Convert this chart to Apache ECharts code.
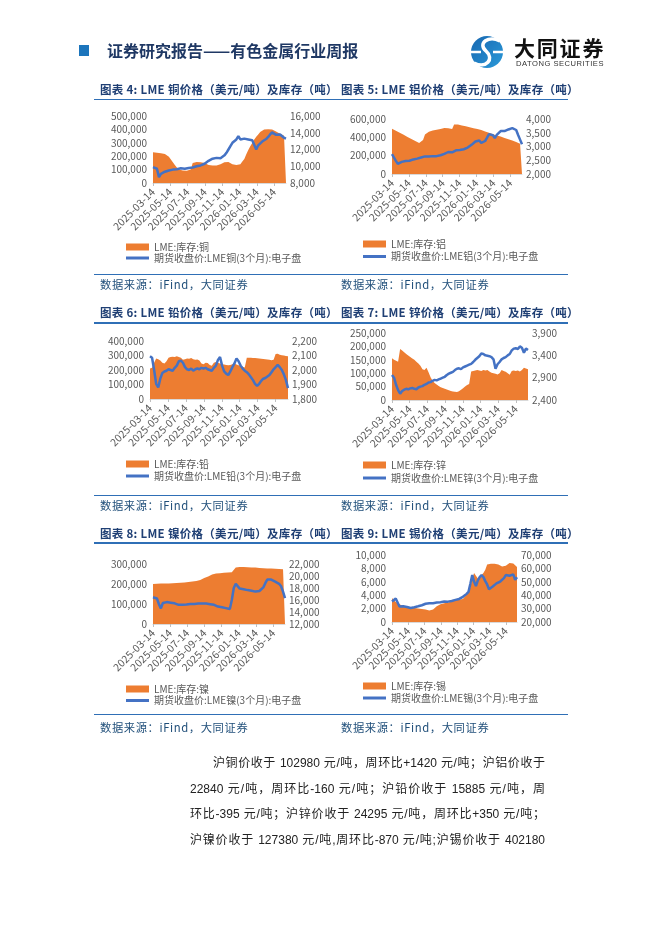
<!DOCTYPE html>
<html>
<head>
<meta charset="utf-8">
<script src="https://cdn.jsdelivr.net/npm/echarts@6.0.0/dist/echarts.min.js"></script>
<style>
html,body{margin:0;padding:0;background:#fff;}
#page{position:relative;width:662px;height:936px;overflow:hidden;font-family:"Noto Sans CJK SC",sans-serif;}
#graph_all{position:absolute;left:0;top:0;width:662px;height:936px;}
.abs{position:absolute;white-space:nowrap;}
.ttl{font-size:11.5px;font-weight:bold;color:#1f3f74;line-height:14px;letter-spacing:0.3px;}
.src{font-size:11.3px;color:#1f4e79;line-height:14px;letter-spacing:0.6px;}
.rule{position:absolute;left:94px;width:474px;height:1.5px;background:#2f6fb6;}
.para{position:absolute;left:190px;width:355px;font-family:"Liberation Sans","Noto Sans CJK SC",sans-serif;font-size:12px;color:#222;text-align:justify;text-align-last:justify;white-space:nowrap;line-height:25px;height:25px;}
</style>
</head>
<body>
<div id="page">
  <div id="graph_all"></div>

  <!-- 页眉 -->
  <div class="abs" style="left:79px;top:45px;width:10px;height:11px;background:#1c75bc;"></div>
  <div class="abs" style="left:107px;top:40px;font-size:16px;font-weight:bold;color:#1f3864;line-height:20px;">证券研究报告——有色金属行业周报</div>
  <svg class="abs" style="left:469px;top:34px;" width="38" height="36" viewBox="0 0 38 36">
    <defs><linearGradient id="lg" x1="0" y1="0" x2="1" y2="1"><stop offset="0" stop-color="#1766b0"/><stop offset="1" stop-color="#2b9ad9"/></linearGradient></defs>
    <circle cx="18" cy="18" r="16" fill="url(#lg)"/>
    <path d="M31,7 C20,1 8,9 17,17 C26,25 17,35 5,29" stroke="#fff" stroke-width="3.5" fill="none"/>
    <path d="M2,18 L12,18 M24,18 L34,18" stroke="#fff" stroke-width="2.5"/>
  </svg>
  <div class="abs" style="left:514px;top:34px;font-size:21px;font-weight:bold;color:#111;letter-spacing:1.8px;line-height:26px;">大同证券</div>
  <div class="abs" style="left:516px;top:59px;font-family:'Liberation Sans',sans-serif;font-size:7.6px;color:#333;line-height:10px;letter-spacing:0.5px;">DATONG SECURITIES</div>

  <!-- 第一行 -->
  <div class="abs ttl" style="left:100px;top:82px;">图表 4: LME 铜价格（美元/吨）及库存（吨）</div>
  <div class="abs ttl" style="left:341px;top:82px;">图表 5: LME 铝价格（美元/吨）及库存（吨）</div>
  <div class="rule" style="top:98.5px;"></div>
  <div class="rule" style="top:273.5px;"></div>
  <div class="abs src" style="left:100px;top:277px;">数据来源：iFind，大同证券</div>
  <div class="abs src" style="left:341px;top:277px;">数据来源：iFind，大同证券</div>

  <!-- 第二行 -->
  <div class="abs ttl" style="left:100px;top:305px;">图表 6: LME 铅价格（美元/吨）及库存（吨）</div>
  <div class="abs ttl" style="left:341px;top:305px;">图表 7: LME 锌价格（美元/吨）及库存（吨）</div>
  <div class="rule" style="top:322px;"></div>
  <div class="rule" style="top:494.5px;"></div>
  <div class="abs src" style="left:100px;top:498px;">数据来源：iFind，大同证券</div>
  <div class="abs src" style="left:341px;top:498px;">数据来源：iFind，大同证券</div>

  <!-- 第三行 -->
  <div class="abs ttl" style="left:100px;top:525.5px;">图表 8: LME 镍价格（美元/吨）及库存（吨）</div>
  <div class="abs ttl" style="left:341px;top:525.5px;">图表 9: LME 锡价格（美元/吨）及库存（吨）</div>
  <div class="rule" style="top:542px;"></div>
  <div class="rule" style="top:713.5px;"></div>
  <div class="abs src" style="left:100px;top:720px;">数据来源：iFind，大同证券</div>
  <div class="abs src" style="left:341px;top:720px;">数据来源：iFind，大同证券</div>

  <!-- 正文 -->
  <div class="para" style="top:751px;left:213px;width:332px;">沪铜价收于 102980 元/吨，周环比+1420 元/吨；沪铝价收于</div>
  <div class="para" style="top:776.5px;">22840 元/吨，周环比-160 元/吨；沪铅价收于 15885 元/吨，周</div>
  <div class="para" style="top:802px;">环比-395 元/吨；沪锌价收于 24295 元/吨，周环比+350 元/吨；</div>
  <div class="para" style="top:827.5px;">沪镍价收于 127380 元/吨,周环比-870 元/吨;沪锡价收于 402180</div>
</div>

<script>
// LME 基本金属：库存（面积，左轴）与 3 个月期货收盘价（折线，右轴），周度取样
var startDate = '2025-03-14';
var tickLabels = ['2025-03-14', '2025-05-14', '2025-07-14', '2025-09-14',
                  '2025-11-14', '2026-01-14', '2026-03-14', '2026-05-14'];
var tickStep = 61;   // 两个月约 61 天
var dayMax = 469;

// 周度日期
var weeks = [];
for (var w = 0; w < 68; w++) {
    weeks.push(new Date(Date.UTC(2025, 2, 14 + 7 * w)).toISOString().slice(0, 10));
}

// 库存：千吨（锡为吨）
var cuStock = [229,227,225,224,222,220,217,210,195,175,155,135,115,100,95,93,92,92,93,100,
               150,155,156,156,155,153,150,140,135,132,130,130,131,132,140,150,155,157,156,152,
               140,135,134,136,140,160,180,215,246,275,298,325,345,362,380,394,400,402,401,400,
               399,392,385,372,368,360,352,345];
var cuPrice = [9900,9950,9700,8700,9100,9300,9350,9450,9500,9550,9600,9600,9650,9700,9750,9800,9700,9850,9800,9900,
               9850,9950,10000,10050,10100,10200,10300,10500,10650,10800,10900,10800,11000,10850,10950,11000,11300,11600,12000,12400,
               12800,13000,13200,13600,13200,13000,13300,13400,13200,13300,13100,12900,12000,12500,12700,12950,13100,13250,13500,13800,
               14050,13850,13750,13950,13800,13650,13400,13300];

var alStock = [495,483,472,460,451,439,427,416,404,393,383,371,359,348,337,335,370,430,450,460,
               470,475,478,482,485,490,498,502,503,498,495,490,540,545,540,535,530,525,520,515,
               510,505,500,496,492,488,480,472,465,458,450,442,435,428,420,415,408,400,394,386,
               380,375,365,358,348,340,330,320];
var alPrice = [2720,2650,2480,2370,2420,2440,2420,2470,2490,2480,2510,2530,2520,2560,2590,2600,2620,2640,2630,2640,
               2620,2650,2640,2650,2660,2680,2700,2730,2780,2800,2810,2790,2830,2860,2850,2870,2880,2900,2930,2960,
               3000,3060,3100,3180,3230,3220,3130,3160,3200,3320,3450,3520,3410,3310,3420,3470,3560,3580,3560,3600,
               3620,3640,3670,3720,3600,3420,3250,3080];

var pbStock = [210,215,250,280,275,265,250,245,260,285,290,292,290,295,290,285,270,275,280,278,
               282,275,270,272,265,245,240,250,248,235,230,250,255,250,245,240,238,235,232,235,
               240,245,238,232,228,222,218,285,285,284,283,282,281,280,278,276,274,272,270,268,
               270,310,312,305,302,300,297,295];
var pbPrice = [2095,2085,2000,1905,1880,1940,1980,1990,1995,2005,2000,1995,2015,2030,2060,2065,2050,2020,2005,2000,
               2010,1995,2005,2010,2005,2015,2010,2015,2005,2000,1995,2015,2030,2070,2090,2030,1990,1975,1965,1990,
               2020,2045,2080,2060,2030,2010,1995,1985,1970,1950,1930,1905,1890,1905,1925,1940,1945,1955,1965,1985,
               2005,2020,2035,2020,2000,1970,1930,1875];

var znStock = [156,150,146,143,190,185,178,172,166,160,155,150,143,136,128,115,112,120,104,85,
               72,63,58,52,48,45,42,39,36,34,32,31,30,33,38,44,50,56,60,106,
               108,110,112,110,108,112,110,112,106,102,100,98,95,100,112,108,105,100,94,108,
               110,108,110,106,112,120,118,115];
var znPrice = [2960,2900,2740,2620,2540,2600,2630,2650,2640,2660,2670,2650,2640,2680,2700,2710,2740,2760,2790,2800,
               2830,2850,2840,2860,2880,2900,2920,2960,2990,3010,3030,3070,3100,3110,3090,3130,3150,3170,3190,3210,
               3250,3300,3340,3380,3440,3430,3400,3390,3380,3360,3310,3100,3200,3250,3310,3340,3360,3400,3430,3510,
               3550,3560,3540,3600,3570,3460,3550,3520];

var niStock = [200,200,201,201,202,202,203,203,203,204,204,205,205,206,206,207,208,209,210,211,
               212,213,215,217,220,223,230,235,237,240,248,250,252,253,254,255,256,257,258,258,
               259,260,283,284,285,285,285,284,284,283,283,282,282,281,280,280,279,278,278,277,
               277,277,276,276,275,275,274,273];
var niPrice = [16450,16350,16250,15300,14600,15500,15700,15650,15600,15550,15500,15450,15350,15200,15150,15200,15150,15250,15300,15350,
               15300,15350,15400,15420,15450,15400,15450,15400,15350,15300,15250,15200,15100,14900,14750,14800,14700,14650,14550,14500,
               16000,18000,18700,18500,17900,17700,17800,17750,17650,17600,17550,17450,17400,17450,17500,17550,18100,18800,19400,19700,
               19400,19200,19050,19300,18700,18300,17400,16300];

var snStock = [3600,3300,3000,2800,2650,2500,2400,2350,2300,2250,2200,2150,2100,2050,2000,1980,1950,1900,1850,1780,
               1720,1800,1850,2100,2350,2550,2650,2700,2780,2850,2900,2950,3050,3150,3250,3300,3350,3400,3450,3700,
               4100,4700,5200,6500,7300,6900,6500,6600,7000,7300,7800,8600,8650,8700,8650,8700,8650,8600,8400,8300,
               8200,8400,8650,8800,8850,8750,8500,8200];
var snPrice = [35300,34800,37500,34500,31500,30500,31800,31500,31200,30600,30400,30700,31000,31300,31700,32100,32500,33000,33600,33800,
               34000,34100,34000,34300,34500,34600,34800,35000,35300,35400,35200,35000,35700,36100,36500,36800,37200,37900,38800,39700,
               41000,42500,48500,55000,50000,46800,51000,53500,55000,53500,50500,48000,44500,45000,46500,47800,48800,49500,50200,51500,
               52700,55000,56300,54500,54000,55500,51500,53400];

var charts = [
    {metal: '铜', stock: cuStock, price: cuPrice, unit: 1000, box: [153, 116, 133, 67],
     left: [0, 500000, 100000], right: [8000, 16000, 2000], lg: [126, 248, 259]},
    {metal: '铝', stock: alStock, price: alPrice, unit: 1000, box: [392, 119, 130, 55],
     left: [0, 600000, 200000], right: [2000, 4000, 500], lg: [363, 245, 257.5]},
    {metal: '铅', stock: pbStock, price: pbPrice, unit: 1000, box: [150, 341, 138, 58],
     left: [0, 400000, 100000], right: [1800, 2200, 100], lg: [126, 465, 477]},
    {metal: '锌', stock: znStock, price: znPrice, unit: 1000, box: [392, 333, 136, 67],
     left: [0, 250000, 50000], right: [2400, 3900, 500], lg: [363, 466, 479]},
    {metal: '镍', stock: niStock, price: niPrice, unit: 1000, box: [153, 564, 132, 60],
     left: [0, 300000, 100000], right: [12000, 22000, 2000], lg: [126, 690, 701.5]},
    {metal: '锡', stock: snStock, price: snPrice, unit: 1, box: [392, 555, 125, 67],
     left: [0, 10000, 2000], right: [20000, 70000, 10000], lg: [363, 687, 699]}
];

var orange = '#ED7D31';
var blue = '#4472C4';
var grey = '#595959';
var t0 = Date.parse(startDate);
function dayOf(d) { return Math.round((Date.parse(d) - t0) / 86400000); }
function fmtNum(v) { return v.toLocaleString('en-US'); }

var myChart = echarts.init(document.getElementById('graph_all'));
var option = {
    animation: false,
    textStyle: {fontFamily: 'Noto Sans CJK SC'},
    grid: [], xAxis: [], yAxis: [], series: [], legend: []
};

charts.forEach(function (c, k) {
    var stockName = 'LME:库存:' + c.metal;
    var priceName = '期货收盘价:LME' + c.metal + '(3个月):电子盘';
    option.grid.push({left: c.box[0], top: c.box[1], width: c.box[2], height: c.box[3]});
    option.xAxis.push({
        type: 'value', gridIndex: k, min: 0, max: dayMax, interval: tickStep,
        axisLine: {show: true, onZero: false, lineStyle: {color: '#d9d9d9', width: 1}},
        axisTick: {show: true, length: 3, lineStyle: {color: '#bfbfbf'}},
        splitLine: {show: false},
        axisLabel: {
            rotate: 45, fontSize: 10.5, color: grey, margin: 7, showMaxLabel: false,
            formatter: function (v) {
                var n = v / tickStep;
                return (n % 1 === 0 && tickLabels[n]) ? tickLabels[n] : '';
            }
        }
    });
    option.yAxis.push({
        type: 'value', gridIndex: k, position: 'left',
        min: c.left[0], max: c.left[1], interval: c.left[2],
        axisLine: {show: false}, axisTick: {show: false}, splitLine: {show: false},
        axisLabel: {fontSize: 10, color: grey, margin: 6, formatter: fmtNum}
    });
    option.yAxis.push({
        type: 'value', gridIndex: k, position: 'right',
        min: c.right[0], max: c.right[1], interval: c.right[2],
        axisLine: {show: false}, axisTick: {show: false}, splitLine: {show: false},
        axisLabel: {fontSize: 10, color: grey, margin: 4, formatter: fmtNum}
    });
    option.series.push({
        name: stockName, type: 'line', xAxisIndex: k, yAxisIndex: 2 * k,
        showSymbol: false, z: 1,
        lineStyle: {width: 0}, itemStyle: {color: orange},
        areaStyle: {color: orange, opacity: 1},
        data: weeks.map(function (d, i) { return [dayOf(d), c.stock[i] * c.unit]; })
    });
    option.series.push({
        name: priceName, type: 'line', xAxisIndex: k, yAxisIndex: 2 * k + 1,
        showSymbol: false, z: 2,
        lineStyle: {width: 2.5, color: blue}, itemStyle: {color: blue},
        data: weeks.map(function (d, i) { return [dayOf(d), c.price[i]]; })
    });
    option.legend.push({
        data: [{name: stockName, icon: 'rect'}], left: c.lg[0], top: c.lg[1] - 6,
        padding: 0, itemWidth: 23, itemHeight: 7, selectedMode: false,
        textStyle: {fontSize: 10, color: grey}
    });
    option.legend.push({
        data: [{name: priceName, icon: 'rect'}], left: c.lg[0], top: c.lg[2] - 6,
        padding: 0, itemWidth: 23, itemHeight: 3, selectedMode: false,
        textStyle: {fontSize: 10, color: grey}
    });
});

myChart.setOption(option);
</script>
</body>
</html>
